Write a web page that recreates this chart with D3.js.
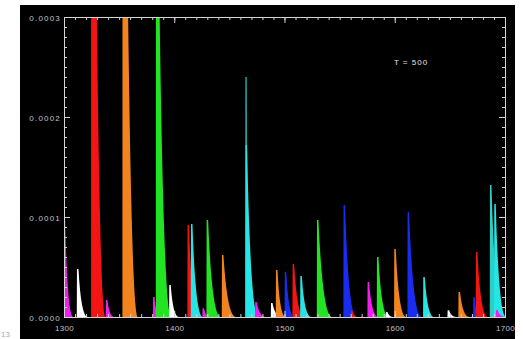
<!DOCTYPE html>
<html>
<head>
<meta charset="utf-8">
<script src="https://cdn.jsdelivr.net/npm/d3@7"></script>
<style>
  html, body { margin: 0; padding: 0; background: #fff; }
  svg { display: block; }
  text { font-family: "Liberation Sans", Arial, sans-serif; }
</style>
</head>
<body>
<svg id="chart" width="523" height="339"></svg>
<script>
// ---- data ----
const seriesKeys   = ["magenta", "white", "red", "orange", "green", "cyan", "blue", "teal", "aqua"];
const seriesColors = ["#f01ef0", "#ffffff", "#f31414", "#f28420", "#22e422", "#24e6e6", "#1a2cf0", "#2aa39c", "#2ccfc6"];

const spikeSeries = ["magenta","white","red","magenta","orange","magenta","green","white","red","cyan",
                     "magenta","green","orange","teal","cyan","magenta","white","orange","blue","red",
                     "cyan","green","blue","red","magenta","green","white","orange","blue","cyan",
                     "white","orange","blue","red","aqua","cyan","magenta"];
const spikePos    = [1300.3,1312.4,1325.4,1338.7,1353.8,1381.4,1384.1,1396.1,1412.7,1415.8,
                     1426.3,1430.0,1443.9,1465.1,1465.3,1474.1,1488.4,1492.9,1500.9,1508.0,
                     1515.0,1530.1,1554.2,1561.0,1576.0,1584.5,1592.7,1600.2,1612.3,1626.5,
                     1648.6,1658.5,1671.9,1674.3,1687.0,1690.9,1692.5];
const spikePeak   = [0.000099,0.000048,0.00090,0.000017,0.00080,0.000020,0.00050,0.000032,0.000092,0.000093,
                     0.0000087,0.000097,0.000062,0.000240,0.000172,0.000015,0.000014,0.000047,0.000045,0.000053,
                     0.000041,0.000097,0.000112,0.000006,0.000035,0.000060,0.000005,0.000068,0.000105,0.000040,
                     0.0000067,0.000025,0.000020,0.000065,0.000132,0.000113,0.000007];
const spikeTail   = [8,9,12,7,13,6,13,8,9,10,
                     6,12,12,4,11,9,9,8,8,10,
                     9,13,11,6,9,10,6,10,12,9,
                     7,9,5,10,12,10,8];

const xTicks      = [1300, 1400, 1500, 1600, 1700];
const xTickLabels = ["1300", "1400", "1500", "1600", "1700"];
const yTicks      = [0, 0.0001, 0.0002, 0.0003];
const yTickLabels = ["0.0000", "0.0001", "0.0002", "0.0003"];
const annotation  = "T = 500";

// ---- layout ----
const svg = d3.select("#chart");
const W = 523, H = 339;
const frame = {left: 20, top: 5, right: 515, bottom: 339};
const plot = {left: 64, right: 505, top: 17, bottom: 317};

const x = d3.scaleLinear().domain([1300, 1700]).range([plot.left, plot.right]);
const y = d3.scaleLinear().domain([0, 0.0003]).range([plot.bottom, plot.top]);
const color = d3.scaleOrdinal().domain(seriesKeys).range(seriesColors);

svg.append("rect").attr("x", 0).attr("y", 0).attr("width", W).attr("height", H).attr("fill", "#fff");
svg.append("rect").attr("x", frame.left).attr("y", frame.top)
   .attr("width", frame.right - frame.left).attr("height", frame.bottom - frame.top).attr("fill", "#000");

svg.append("clipPath").attr("id", "clip").append("rect")
   .attr("x", plot.left).attr("y", plot.top)
   .attr("width", plot.right - plot.left).attr("height", plot.bottom - plot.top);

// ---- spikes ----
const spikes = spikePos.map((p, i) => ({pos: p, peak: spikePeak[i], tail: spikeTail[i], s: spikeSeries[i]}));
const g = svg.append("g").attr("clip-path", "url(#clip)");
g.selectAll("path.spike").data(spikes).enter().append("path")
  .attr("class", "spike")
  .attr("fill", d => color(d.s))
  .attr("d", d => {
    const x0 = x(d.pos), xe = x(d.pos + d.tail), y0 = y(0), yp = y(d.peak);
    const p = d3.path();
    p.moveTo(x0 - 0.9, y0);
    p.lineTo(x0 - 0.7, yp);
    p.lineTo(x0 + 0.8, yp);
    p.quadraticCurveTo(x0 + 0.35 * (xe - x0), y0, xe, y0);
    p.closePath();
    return p.toString();
  });

// ---- axes ----
const axisColor = "#d4d4d4";
function styleAxis(sel) {
  sel.select(".domain").attr("stroke", axisColor).attr("stroke-width", 1);
  sel.selectAll(".tick line").attr("stroke", axisColor).attr("stroke-width", 1);
  sel.selectAll("text").attr("fill", "#c0c0c0").attr("font-size", "8px").style("letter-spacing", "1.2px");
}
const yMinor = d3.range(0, 0.0003 + 1e-9, 0.00001);
const xMinor = d3.range(1300, 1700 + 1e-9, 10);

// minor ticks
svg.append("g").attr("transform", `translate(${plot.left},0)`)
  .call(d3.axisLeft(y).tickValues(yMinor).tickSizeInner(-3).tickSizeOuter(0).tickFormat(""))
  .call(styleAxis);
svg.append("g").attr("transform", `translate(${plot.right},0)`)
  .call(d3.axisRight(y).tickValues(yMinor).tickSizeInner(-3).tickSizeOuter(0).tickFormat(""))
  .call(styleAxis);
svg.append("g").attr("transform", `translate(0,${plot.top})`)
  .call(d3.axisTop(x).tickValues(xMinor).tickSizeInner(-3).tickSizeOuter(0).tickFormat(""))
  .call(styleAxis);
svg.append("g").attr("transform", `translate(0,${plot.bottom})`)
  .call(d3.axisBottom(x).tickValues(xMinor).tickSizeInner(-3).tickSizeOuter(0).tickFormat(""))
  .call(styleAxis);

// major ticks + labels
svg.append("g").attr("transform", `translate(${plot.left},0)`)
  .call(d3.axisLeft(y).tickValues(yTicks).tickSizeInner(-6).tickSizeOuter(0).tickPadding(3)
        .tickFormat((d, i) => yTickLabels[i]))
  .call(styleAxis)
  .call(s => s.selectAll("text").attr("dy", "0.4em"));
svg.append("g").attr("transform", `translate(${plot.right},0)`)
  .call(d3.axisRight(y).tickValues(yTicks).tickSizeInner(-6).tickSizeOuter(0).tickFormat(""))
  .call(styleAxis);
svg.append("g").attr("transform", `translate(0,${plot.top})`)
  .call(d3.axisTop(x).tickValues(xTicks).tickSizeInner(-6).tickSizeOuter(0).tickFormat(""))
  .call(styleAxis);
svg.append("g").attr("transform", `translate(0,${plot.bottom})`)
  .call(d3.axisBottom(x).tickValues(xTicks).tickSizeInner(-6).tickSizeOuter(0).tickPadding(8)
        .tickFormat((d, i) => xTickLabels[i]))
  .call(styleAxis)
  .call(s => s.selectAll("text").style("letter-spacing", "0.3px"));

// annotation
svg.append("text").attr("x", 411).attr("y", 65).attr("text-anchor", "middle")
  .attr("fill", "#e6e6e6").attr("font-size", "8px").style("letter-spacing", "1px")
  .text(annotation);

// white margin on the right (clips the last label like the reference)
svg.append("rect").attr("x", frame.right).attr("y", 0).attr("width", W - frame.right).attr("height", H).attr("fill", "#fff");
// stray label at bottom-left edge
svg.append("text").attr("x", 1).attr("y", 337).attr("fill", "#aaa").attr("font-size", "8px").text("13");
</script>
</body>
</html>
